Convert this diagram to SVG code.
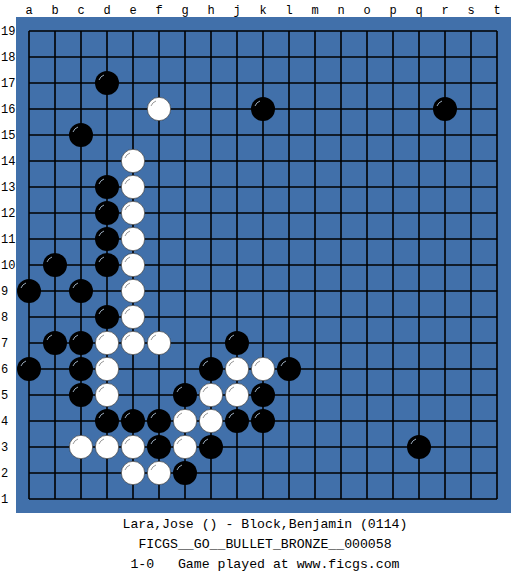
<svg xmlns="http://www.w3.org/2000/svg" width="525" height="575" viewBox="0 0 525 575">
<defs>
<style>
.lbl{font-family:"Liberation Mono","DejaVu Sans Mono",monospace;font-size:12px;fill:#000}
.cap{font-family:"Liberation Mono","DejaVu Sans Mono",monospace;font-size:13.2px;fill:#000;text-anchor:middle}
.g{stroke:#000;stroke-width:1.6;fill:none}
.b{fill:#000}
.w{fill:#fff;stroke:#222;stroke-width:0.6}
.hb{fill:none;stroke:#9ab;stroke-width:1}
.hw{fill:none;stroke:#999;stroke-width:1}
</style>
<g id="B"><circle class="b" r="12"/><path class="hb" d="M-8,-3 A8.5,8.5 0 0 1 -3,-8"/></g>
<g id="W"><circle class="w" r="11.7"/><path class="hw" d="M-8,-3 A8.5,8.5 0 0 1 -3,-8"/></g>
</defs>
<rect width="525" height="575" fill="#fff"/>
<g id="board">
<rect x="16" y="17" width="495" height="496" fill="#4170aa"/>
<g class="g">
<path d="M29,31H497M29,57H497M29,83H497M29,109H497M29,135H497M29,161H497M29,187H497M29,213H497M29,239H497M29,265H497M29,291H497M29,317H497M29,343H497M29,369H497M29,395H497M29,421H497M29,447H497M29,473H497M29,499H497"/>
<path d="M29,31V499M55,31V499M81,31V499M107,31V499M133,31V499M159,31V499M185,31V499M211,31V499M237,31V499M263,31V499M289,31V499M315,31V499M341,31V499M367,31V499M393,31V499M419,31V499M445,31V499M471,31V499M497,31V499"/>
</g>
</g>
<g id="col-labels" class="lbl" text-anchor="middle">
<text x="29" y="14">a</text><text x="55" y="14">b</text><text x="81" y="14">c</text><text x="107" y="14">d</text><text x="133" y="14">e</text><text x="159" y="14">f</text><text x="185" y="14">g</text><text x="211" y="14">h</text><text x="237" y="14">j</text><text x="263" y="14">k</text><text x="289" y="14">l</text><text x="315" y="14">m</text><text x="341" y="14">n</text><text x="367" y="14">o</text><text x="393" y="14">p</text><text x="419" y="14">q</text><text x="445" y="14">r</text><text x="471" y="14">s</text><text x="497" y="14">t</text>
</g>
<g id="row-labels" class="lbl">
<text x="1" y="35">19</text><text x="1" y="61">18</text><text x="1" y="87">17</text><text x="1" y="113">16</text><text x="1" y="139">15</text><text x="1" y="165">14</text><text x="1" y="191">13</text><text x="1" y="217">12</text><text x="1" y="243">11</text><text x="1" y="269">10</text><text x="1" y="295">9</text><text x="1" y="321">8</text><text x="1" y="347">7</text><text x="1" y="373">6</text><text x="1" y="399">5</text><text x="1" y="425">4</text><text x="1" y="451">3</text><text x="1" y="477">2</text><text x="1" y="503">1</text>
</g>
<g id="black-stones">
<use href="#B" x="107" y="83"/>
<use href="#B" x="263" y="109"/>
<use href="#B" x="445" y="109"/>
<use href="#B" x="81" y="135"/>
<use href="#B" x="107" y="187"/>
<use href="#B" x="107" y="213"/>
<use href="#B" x="107" y="239"/>
<use href="#B" x="107" y="265"/>
<use href="#B" x="55" y="265"/>
<use href="#B" x="29" y="291"/>
<use href="#B" x="81" y="291"/>
<use href="#B" x="107" y="317"/>
<use href="#B" x="55" y="343"/>
<use href="#B" x="81" y="343"/>
<use href="#B" x="237" y="343"/>
<use href="#B" x="29" y="369"/>
<use href="#B" x="81" y="369"/>
<use href="#B" x="211" y="369"/>
<use href="#B" x="289" y="369"/>
<use href="#B" x="81" y="395"/>
<use href="#B" x="185" y="395"/>
<use href="#B" x="263" y="395"/>
<use href="#B" x="107" y="421"/>
<use href="#B" x="133" y="421"/>
<use href="#B" x="159" y="421"/>
<use href="#B" x="237" y="421"/>
<use href="#B" x="263" y="421"/>
<use href="#B" x="159" y="447"/>
<use href="#B" x="211" y="447"/>
<use href="#B" x="419" y="447"/>
<use href="#B" x="185" y="473"/>
</g>
<g id="white-stones">
<use href="#W" x="159" y="109"/>
<use href="#W" x="133" y="161"/>
<use href="#W" x="133" y="187"/>
<use href="#W" x="133" y="213"/>
<use href="#W" x="133" y="239"/>
<use href="#W" x="133" y="265"/>
<use href="#W" x="133" y="291"/>
<use href="#W" x="133" y="317"/>
<use href="#W" x="107" y="343"/>
<use href="#W" x="133" y="343"/>
<use href="#W" x="159" y="343"/>
<use href="#W" x="107" y="369"/>
<use href="#W" x="237" y="369"/>
<use href="#W" x="263" y="369"/>
<use href="#W" x="107" y="395"/>
<use href="#W" x="211" y="395"/>
<use href="#W" x="237" y="395"/>
<use href="#W" x="185" y="421"/>
<use href="#W" x="211" y="421"/>
<use href="#W" x="81" y="447"/>
<use href="#W" x="107" y="447"/>
<use href="#W" x="133" y="447"/>
<use href="#W" x="185" y="447"/>
<use href="#W" x="133" y="473"/>
<use href="#W" x="159" y="473"/>
</g>
<g id="caption" class="cap">
<text x="265" y="528" xml:space="preserve">Lara,Jose () - Block,Benjamin (0114)</text>
<text x="265" y="548" xml:space="preserve">FICGS__GO__BULLET_BRONZE__000058</text>
<text x="265" y="568" xml:space="preserve">1-0   Game played at www.ficgs.com</text>
</g>
</svg>
